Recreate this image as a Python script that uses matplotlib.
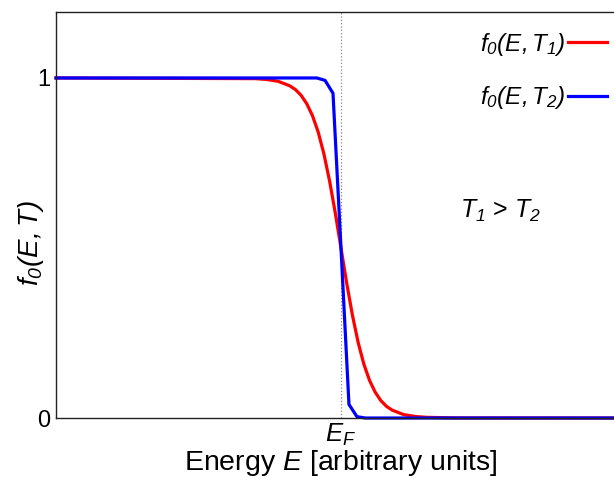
import matplotlib
matplotlib.use("Agg")
import matplotlib.pyplot as plt

plt.rcParams['font.family'] = ['Liberation Sans', 'DejaVu Sans']
plt.rcParams['mathtext.fontset'] = 'custom'
plt.rcParams['mathtext.rm'] = 'Liberation Sans:italic'
plt.rcParams['mathtext.it'] = 'Liberation Sans:italic'

# energies in arbitrary units, E_F = 1
energy_red = [0.0, 0.70, 0.74, 0.78, 0.82, 0.84, 0.86, 0.88, 0.90, 0.92, 0.94, 0.96, 0.98,
              1.00, 1.02, 1.04, 1.06, 1.08, 1.10, 1.12, 1.14, 1.16, 1.18, 1.22, 1.26, 1.30,
              1.40, 1.958]
f_red = [1.0, 0.998, 0.9955, 0.990, 0.977, 0.966, 0.949, 0.924, 0.889, 0.841, 0.777, 0.697,
         0.603, 0.5, 0.397, 0.303, 0.223, 0.159, 0.111, 0.076, 0.051, 0.034, 0.023, 0.010,
         0.0045, 0.002, 0.0003, 0.0]

energy_blue = [0.0, 0.915, 0.944, 0.972, 1.0, 1.028, 1.056, 1.085, 1.958]
f_blue = [1.0, 1.0, 0.993, 0.955, 0.5, 0.04, 0.004, 0.0, 0.0]

e_fermi = 1.0
labels = [r'$f_0(E,T_1)$', r'$f_0(E,T_2)$']

fig = plt.figure(figsize=(6.14, 4.78), dpi=100)
ax = fig.add_axes([0.0912, 0.1255, 0.9088, 0.8494])

ax.axvline(e_fermi, color='#888888', ls=':', lw=0.9, zorder=1)
ax.plot(energy_red, f_red, color='#ff0000', lw=2.3, label=labels[0], clip_on=False)
ax.plot(energy_blue, f_blue, color='#0000ff', lw=2.3, label=labels[1], clip_on=False)

ax.set_xlim(0, 1.958)
ax.set_ylim(0, 1.194)
ax.spines['right'].set_visible(False)
for s in ['left', 'top', 'bottom']:
    ax.spines[s].set_linewidth(1.0)
    ax.spines[s].set_color('#222222')

ax.set_yticks([0, 1])
ax.set_yticklabels(['0', '1'])
ax.set_xticks([e_fermi])
ax.set_xticklabels([r'$E_F$'])
ax.tick_params(axis='y', length=0, pad=4, labelsize=17)
ax.tick_params(axis='x', length=0, pad=3, labelsize=18.5)

ax.set_xlabel(r'Energy $E$ [arbitrary units]', fontsize=20.5)
ax.xaxis.set_label_coords(0.511, -0.074)
ax.set_ylabel(r'$f_0(E,T)$', fontsize=20)
ax.yaxis.set_label_coords(-0.018, 0.431)

ax.text(1.561, 0.609, r'$T_1$ > $T_2$', fontsize=18, ha='center', va='center')

ax.legend(loc='upper right', bbox_to_anchor=(1.005, 0.978), frameon=False, markerfirst=False,
          fontsize=17.5, handlelength=1.6, handletextpad=0.1, labelspacing=1.1, borderaxespad=0)

fig.savefig('out.png', dpi=100)
